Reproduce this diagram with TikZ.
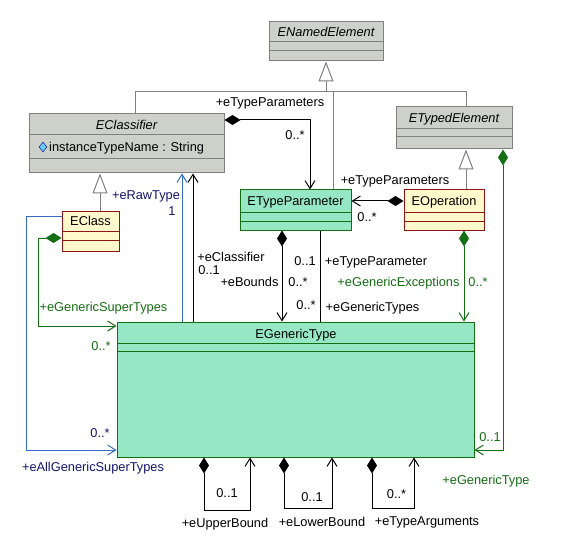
\documentclass[tikz,border=0pt]{standalone}
\usepackage{fontspec}
\setmainfont{Liberation Sans}
\usetikzlibrary{arrows.meta,fit,shapes.geometric}
\definecolor{abstractgray}{RGB}{205,209,202}
\definecolor{framegray}{RGB}{128,128,128}
\definecolor{typegreen}{RGB}{150,232,196}
\definecolor{darkgreen}{RGB}{20,110,20}
\definecolor{classyellow}{RGB}{255,249,204}
\definecolor{darkred}{RGB}{140,20,20}
\definecolor{refblue}{RGB}{50,110,200}
\definecolor{navy}{RGB}{20,20,110}

\begin{document}
\begin{tikzpicture}[x=1bp,y=-1bp,font=\fontsize{12.8bp}{15bp}\selectfont]
            \tikzset{
            ecore abstract/.style={draw=framegray,fill=abstractgray,line width=1bp,inner sep=0},
            ecore type/.style={draw=darkgreen,fill=typegreen,line width=1bp,inner sep=0},
            ecore class/.style={draw=darkred,fill=classyellow,line width=1bp,inner sep=0},
            ecore title/.style={inner sep=0,text height=9bp,text depth=0pt},
            ecore role/.style={inner sep=0,text height=9bp,text depth=0pt},
            ecore comp/.style={line width=1bp,{Diamond[length=16bp,width=10bp]}-{Straight Barb[length=8bp,width=10bp]}},
            ecore ref/.style={line width=1bp,-{Straight Barb[length=8bp,width=10bp]}},
            ecore gen/.style={line width=1bp,draw=framegray,-{Triangle[open,length=20bp,width=15bp,fill=white]}},
            ecore genline/.style={line width=1bp,draw=framegray}
            }
            \fill[white] (0,0) rectangle (561,548);
            \useasboundingbox (0,0) rectangle (561,548);

            % classes
            \node[ecore abstract,fit={(269,22) (383,61)}] (named) {};
            \node[ecore abstract,fit={(29,114) (224,173)}] (classifier) {};
            \node[ecore abstract,fit={(396,107) (512,149)}] (typed) {};
            \node[ecore type,fit={(240,190) (351,230)}] (typeparam) {};
            \node[ecore class,fit={(404,190) (484,230)}] (operation) {};
            \node[ecore class,fit={(62,211) (119,251)}] (eclass) {};
            \node[ecore type,fit={(117,322) (474,457)}] (generic) {};

            \node[ecore title] at (326,32) {\itshape ENamedElement};
            \node[ecore title] at (126.5,125) {\itshape EClassifier};
            \node[ecore title] at (454,118) {\itshape ETypedElement};
            \node[ecore title] at (295.5,201) {ETypeParameter};
            \node[ecore title] at (444,201) {EOperation};
            \node[ecore title] at (90.5,221) {EClass};
            \node[ecore title] at (296,334) {EGenericType};

            \node[diamond,draw=blue!50!black,fill=cyan!60,inner sep=0,minimum width=8bp,minimum height=10bp] (attricon) at (43,147) {};
            \node[ecore title,anchor=west] (attr) at (49,147) {instanceTypeName : String};

            % compartments
            \draw[framegray,line width=1bp] (named.west |- 0,42) -- (named.east |- 0,42);
            \draw[framegray,line width=1bp] (named.west |- 0,51) -- (named.east |- 0,51);
            \draw[framegray,line width=1bp] (classifier.west |- 0,135) -- (classifier.east |- 0,135);
            \draw[framegray,line width=1bp] (classifier.west |- 0,159) -- (classifier.east |- 0,159);
            \draw[framegray,line width=1bp] (typed.west |- 0,129) -- (typed.east |- 0,129);
            \draw[framegray,line width=1bp] (typed.west |- 0,137) -- (typed.east |- 0,137);
            \draw[darkgreen,line width=1bp] (typeparam.west |- 0,212) -- (typeparam.east |- 0,212);
            \draw[darkgreen,line width=1bp] (typeparam.west |- 0,221) -- (typeparam.east |- 0,221);
            \draw[darkred,line width=1bp] (operation.west |- 0,212) -- (operation.east |- 0,212);
            \draw[darkred,line width=1bp] (operation.west |- 0,221) -- (operation.east |- 0,221);
            \draw[darkred,line width=1bp] (eclass.west |- 0,231) -- (eclass.east |- 0,231);
            \draw[darkred,line width=1bp] (eclass.west |- 0,240) -- (eclass.east |- 0,240);
            \draw[darkgreen,line width=1bp] (generic.west |- 0,343) -- (generic.east |- 0,343);
            \draw[darkgreen,line width=1bp] (generic.west |- 0,351) -- (generic.east |- 0,351);

            % generalizations
            \coordinate (gjoin) at (326,92);
            \draw[ecore gen] (classifier.north -| 135,0) |- (gjoin) -- (named.south);
            \draw[ecore genline] (typed.north -| 466,0) |- (gjoin);
            \draw[ecore genline] (typeparam.north -| 333,0) -- (gjoin -| 333,0);
            \draw[ecore gen] (eclass.north -| 100,0) -- (classifier.south -| 100,0);
            \draw[ecore gen] (operation.north -| 466,0) -- (typed.south -| 466,0);

            % associations
            \draw[ecore comp] (classifier.east |- 0,120) -| (typeparam.north -| 310,0);
            \node[ecore role] at (270,102) {+eTypeParameters};
            \node[ecore role] at (295,135) {0..*};

            \draw[ecore comp] (operation.west |- 0,201) -- (typeparam.east |- 0,201);
            \node[ecore role] at (395,180) {+eTypeParameters};
            \node[ecore role] at (367,217) {0..*};

            \draw[ecore comp,draw=darkgreen] (typed.south -| 503,0) |- (generic.east |- 0,450);
            \node[ecore role,text=darkgreen] at (490,437) {0..1};
            \node[ecore role,text=darkgreen] at (486,480) {+eGenericType};

            \draw[ecore comp,draw=darkgreen] (operation.south -| 464,0) -- (generic.north -| 464,0);
            \node[ecore role,text=darkgreen] at (398.5,282) {+eGenericExceptions};
            \node[ecore role,text=darkgreen] at (478,282) {0..*};

            \draw[ecore comp] (typeparam.south -| 282,0) -- (generic.north -| 282,0);
            \node[ecore role] at (249.5,282) {+eBounds};
            \node[ecore role] at (298,282) {0..*};

            \draw[line width=1bp] (generic.north -| 320,0) -- (typeparam.south -| 320,0);
            \node[ecore role] at (305,261) {0..1};
            \node[ecore role] at (376,261) {+eTypeParameter};
            \node[ecore role] at (306,305) {0..*};
            \node[ecore role] at (372.5,307) {+eGenericTypes};

            \draw[ecore ref] (generic.north -| 193,0) -- (classifier.south -| 193,0);
            \node[ecore role] at (231,257) {+eClassifier};
            \node[ecore role] at (209,270) {0..1};

            \draw[ecore ref,draw=refblue] (generic.north -| 182,0) -- (classifier.south -| 182,0);
            \node[ecore role,text=navy] at (146,195) {+eRawType};
            \node[ecore role,text=navy] at (172,211) {1};

            \draw[ecore ref,draw=refblue] (eclass.west |- 0,216) -| (26,450) -- (generic.west |- 0,450);
            \node[ecore role,text=navy] at (100,433) {0..*};
            \node[ecore role,text=navy] at (93,467) {+eAllGenericSuperTypes};

            \draw[ecore comp,draw=darkgreen] (eclass.west |- 0,238) -| (38,326) -- (generic.west |- 0,326);
            \node[ecore role,text=darkgreen] at (103.5,307) {+eGenericSuperTypes};
            \node[ecore role,text=darkgreen] at (101,346) {0..*};

            % self references
            \draw[ecore comp] (generic.south -| 204,0) |- (250,510) -- (generic.south -| 250,0);
            \node[ecore role] at (227,493) {0..1};
            \node[ecore role] at (225,523) {+eUpperBound};
            \draw[ecore comp] (generic.south -| 284,0) |- (332,508) -- (generic.south -| 332,0);
            \node[ecore role] at (312,497) {0..1};
            \node[ecore role] at (322,522) {+eLowerBound};
            \draw[ecore comp] (generic.south -| 372,0) |- (414,508) -- (generic.south -| 414,0);
            \node[ecore role] at (396.5,494) {0..*};
            \node[ecore role] at (427,521) {+eTypeArguments};
        \end{tikzpicture}
\end{document}
